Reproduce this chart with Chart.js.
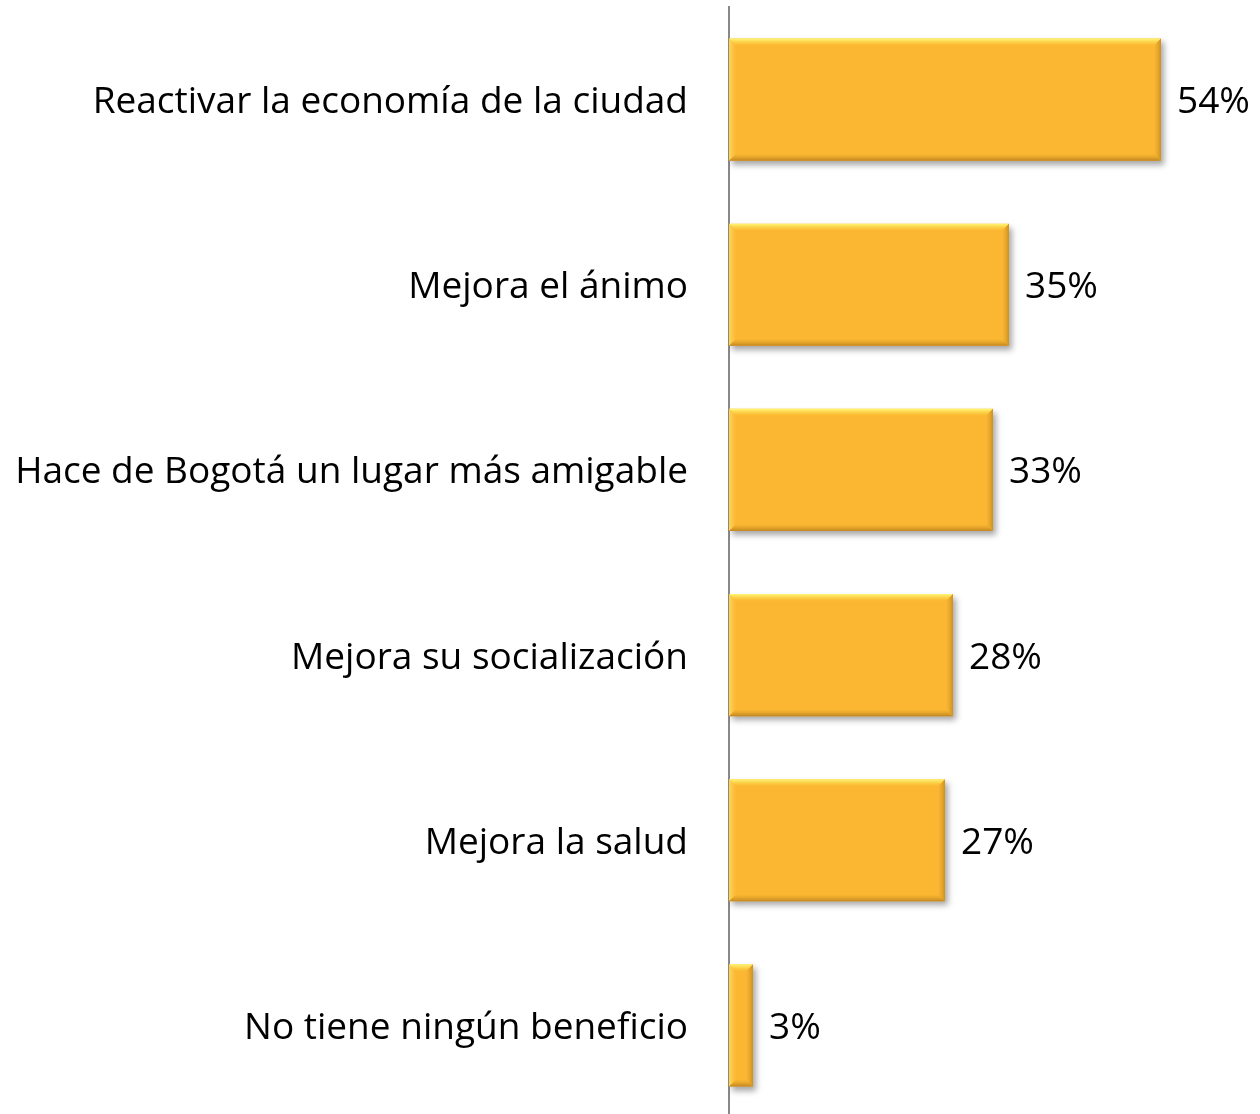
<!DOCTYPE html>
<html>
<head>
<meta charset="utf-8">
<script src="https://cdn.jsdelivr.net/npm/chart.js@4/dist/chart.umd.min.js"></script>
<style>
  html, body { margin: 0; padding: 0; background: #fff; overflow: hidden; }
  #wrap { width: 1260px; height: 1120px; position: relative; }
</style>
</head>
<body>
<div id="wrap"><canvas id="c"></canvas></div>
<script>
const categories = [
  "Reactivar la economía de la ciudad",
  "Mejora el ánimo",
  "Hace de Bogotá un lugar más amigable",
  "Mejora su socialización",
  "Mejora la salud",
  "No tiene ningún beneficio"
];
const values = [54, 35, 33, 28, 27, 3];
const valueLabels = ["54%", "35%", "33%", "28%", "27%", "3%"];

const FONT = "'Open Sans', sans-serif";
const FONT_SIZE = 37;

const bevelPlugin = {
  id: 'bevel',
  beforeDatasetDraw(chart) {
    const ctx = chart.ctx;
    ctx.save();
    ctx.shadowColor = 'rgba(0,0,0,0.35)';
    ctx.shadowBlur = 6;
    ctx.shadowOffsetX = 3;
    ctx.shadowOffsetY = 4;
  },
  afterDatasetDraw(chart) {
    const ctx = chart.ctx;
    ctx.restore();
    const meta = chart.getDatasetMeta(0);
    meta.data.forEach((bar) => {
      const x0 = bar.base, x1 = bar.x;
      const y0 = bar.y - bar.height / 2, y1 = bar.y + bar.height / 2;
      const b = Math.min(7, (x1 - x0) / 3);
      ctx.save();
      let g = ctx.createLinearGradient(0, y0, 0, y0 + b);
      g.addColorStop(0, 'rgba(255,248,120,1)');
      g.addColorStop(1, 'rgba(255,225,80,0.0)');
      ctx.fillStyle = g;
      ctx.beginPath();
      ctx.moveTo(x0, y0); ctx.lineTo(x1, y0); ctx.lineTo(x1 - b, y0 + b); ctx.lineTo(x0 + b, y0 + b); ctx.closePath();
      ctx.fill();
      g = ctx.createLinearGradient(x0, 0, x0 + b, 0);
      g.addColorStop(0, 'rgba(255,215,90,0.9)');
      g.addColorStop(1, 'rgba(255,215,90,0)');
      ctx.fillStyle = g;
      ctx.beginPath();
      ctx.moveTo(x0, y0); ctx.lineTo(x0 + b, y0 + b); ctx.lineTo(x0 + b, y1 - b); ctx.lineTo(x0, y1); ctx.closePath();
      ctx.fill();
      g = ctx.createLinearGradient(0, y1, 0, y1 - b);
      g.addColorStop(0, 'rgba(190,130,30,0.95)');
      g.addColorStop(1, 'rgba(220,160,40,0)');
      ctx.fillStyle = g;
      ctx.beginPath();
      ctx.moveTo(x0, y1); ctx.lineTo(x1, y1); ctx.lineTo(x1 - b, y1 - b); ctx.lineTo(x0 + b, y1 - b); ctx.closePath();
      ctx.fill();
      g = ctx.createLinearGradient(x1, 0, x1 - b, 0);
      g.addColorStop(0, 'rgba(200,140,30,0.9)');
      g.addColorStop(1, 'rgba(220,160,40,0)');
      ctx.fillStyle = g;
      ctx.beginPath();
      ctx.moveTo(x1, y0); ctx.lineTo(x1 - b, y0 + b); ctx.lineTo(x1 - b, y1 - b); ctx.lineTo(x1, y1); ctx.closePath();
      ctx.fill();
      ctx.restore();
    });
  }
};

const valueLabelPlugin = {
  id: 'valueLabels',
  afterDatasetsDraw(chart) {
    const ctx = chart.ctx;
    const meta = chart.getDatasetMeta(0);
    ctx.save();
    ctx.font = FONT_SIZE + 'px ' + FONT;
    ctx.fillStyle = '#000';
    ctx.textAlign = 'left';
    ctx.textBaseline = 'middle';
    meta.data.forEach((bar, i) => {
      ctx.fillText(valueLabels[i], bar.x + 16, bar.y + 3);
    });
    ctx.restore();
  }
};

new Chart(document.getElementById('c'), {
  type: 'bar',
  data: {
    labels: categories,
    datasets: [{
      data: values,
      backgroundColor: '#FBB732',
      borderWidth: 0,
      categoryPercentage: 0.66,
      barPercentage: 1.0
    }]
  },
  options: {
    indexAxis: 'y',
    responsive: true,
    maintainAspectRatio: false,
    animation: false,
    layout: { padding: { top: 7, bottom: 2, right: 11, left: 0 } },
    plugins: { legend: { display: false }, tooltip: { enabled: false } },
    scales: {
      x: {
        display: false,
        min: 0,
        max: 65
      },
      y: {
        afterFit(scale) {
          scale.width = 729;
          scale.paddingTop = 0;
          scale.paddingBottom = 0;
        },
        grid: { display: false, drawTicks: false },
        border: { display: true, color: '#888', width: 2 },
        ticks: {
          color: '#000',
          padding: 41,
          labelOffset: 3,
          autoSkip: false,
          font: { family: FONT, size: FONT_SIZE }
        }
      }
    }
  },
  plugins: [bevelPlugin, valueLabelPlugin]
});
</script>
</body>
</html>
